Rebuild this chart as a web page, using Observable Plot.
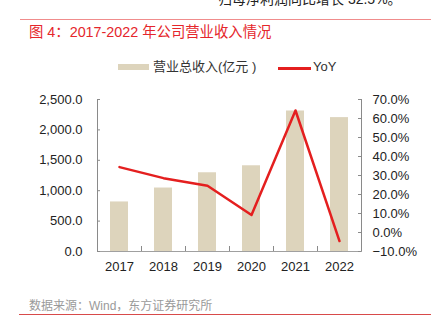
<!DOCTYPE html>
<html><head><meta charset="utf-8">
<script src="https://cdn.jsdelivr.net/npm/d3@7"></script>
<script src="https://cdn.jsdelivr.net/npm/@observablehq/plot@0.6"></script>
<style>
body{margin:0;background:#fff;width:440px;height:323px;overflow:hidden;position:relative;font-family:"Liberation Sans","Noto Sans CJK SC",sans-serif;}
.abs{position:absolute;white-space:nowrap;}
</style></head><body>
<div class="abs" style="left:218px;top:-12px;font-size:14px;color:#222;">归母净利润同比增长 32.5%。</div>
<div class="abs" style="left:20px;top:19px;width:411px;height:1px;background:#f08c8c"></div>
<div class="abs" style="left:29px;top:23px;font-size:14.35px;line-height:18px;color:#e5262b;">图 4：2017-2022 年公司营业收入情况</div>
<div class="abs" style="left:118px;top:64px;width:31px;height:6px;background:#ddd4bc"></div>
<div class="abs" style="left:153px;top:58px;font-size:13px;line-height:18px;color:#333;">营业总收入(亿元 )</div>
<div class="abs" style="left:278px;top:67px;width:33px;height:3px;background:#e41f1f"></div>
<div class="abs" style="left:313px;top:58px;font-size:13px;line-height:18px;color:#333;">YoY</div>
<div id="chart" class="abs" style="left:0;top:85px"></div>
<div class="abs" style="left:29px;top:298px;font-size:12px;line-height:16px;color:#9a9a9a;">数据来源：Wind，东方证券研究所</div>
<div class="abs" style="left:19px;top:314px;width:412px;height:1px;background:#d84a4a"></div>
<script>
const years = ["2017","2018","2019","2020","2021","2022"];
const revenue = [815, 1044, 1295, 1410, 2311, 2202];
const yoy = [34.4, 28.6, 24.6, 9.2, 64.2, -4.5];
const leftTicks = [0, 500, 1000, 1500, 2000, 2500];
const yoyTicks = [-10, 0, 10, 20, 30, 40, 50, 60, 70];

const W = 440, H = 200, ML = 97, MR = 79, MT = 14, MB = 34;
const plotW = W - ML - MR, plotH = H - MT - MB;
const step = plotW / years.length;
const toLeft = d3.scaleLinear().domain([yoyTicks[0], yoyTicks[yoyTicks.length - 1]]).range([leftTicks[0], leftTicks[leftTicks.length - 1]]);
const data = years.map((y, i) => ({year: y, rev: revenue[i], yoy: yoy[i]}));

const chart = Plot.plot({
  width: W, height: H, marginLeft: ML, marginRight: MR, marginTop: MT, marginBottom: MB,
  style: {fontFamily: '"Liberation Sans","Noto Sans CJK SC",sans-serif', fontSize: "13px", color: "#222", background: "transparent"},
  x: {type: "band", domain: years, paddingInner: 0.6, paddingOuter: 0.3, align: 0.5},
  y: {domain: [leftTicks[0], leftTicks[leftTicks.length - 1]]},
  marks: [
    Plot.barY(data, {x: "year", y: "rev", fill: "#ddd4bc"}),
    Plot.lineY(data, {x: "year", y: d => toLeft(d.yoy), stroke: "#e41f1f", strokeWidth: 2.5}),
    Plot.frame({anchor: "left", stroke: "#8a8a8a"}),
    Plot.frame({anchor: "right", stroke: "#8a8a8a"}),
    Plot.frame({anchor: "bottom", stroke: "#a0a0a0"}),
    Plot.ruleY(leftTicks, {insetRight: plotW - 3, stroke: "#8a8a8a"}),
    Plot.ruleY(yoyTicks.map(toLeft), {insetLeft: plotW - 3, stroke: "#8a8a8a"}),
    Plot.ruleX(years.slice(1), {x: d => d, dx: -step / 2, insetTop: plotH - 5, stroke: "#8a8a8a"}),
    Plot.axisY(leftTicks, {anchor: "left", tickSize: 0, tickPadding: 15, tickFormat: d3.format(",.1f"), label: null}),
    Plot.axisY(yoyTicks.map(toLeft), {anchor: "right", tickSize: 0, tickPadding: 11, tickFormat: v => d3.format(".1f")(Math.round(toLeft.invert(v) * 10) / 10) + "%", label: null}),
    Plot.axisX({tickSize: 0, tickPadding: 10, label: null})
  ]
});
document.getElementById("chart").appendChild(chart);
</script>
</body></html>
